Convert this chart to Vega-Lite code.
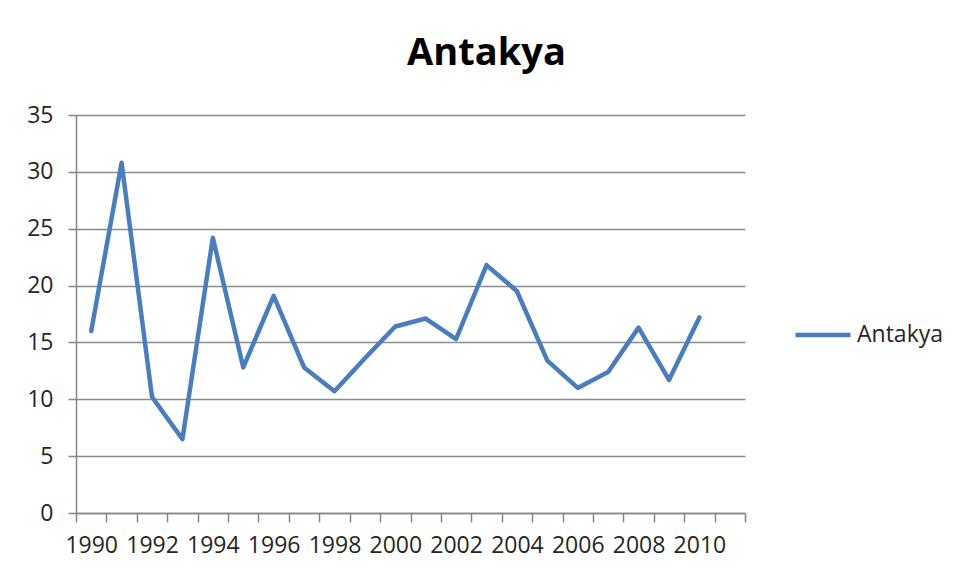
{
  "$schema": "https://vega.github.io/schema/vega-lite/v6.json",
  "autosize": {"type": "none"},
  "padding": {"left": 76, "top": 115, "right": 212, "bottom": 65},
  "width": 669,
  "height": 398,
  "background": "white",
  "title": {
    "text": "Antakya",
    "font": "Open Sans",
    "fontSize": 38,
    "fontWeight": "bold",
    "color": "#000000",
    "anchor": "middle",
    "frame": "group",
    "dx": 76,
    "baseline": "alphabetic",
    "offset": 1
  },
  "data": {
    "values": [
      {"year": "1990", "value": 16.0, "series": "Antakya"},
      {"year": "1991", "value": 30.8, "series": "Antakya"},
      {"year": "1992", "value": 10.2, "series": "Antakya"},
      {"year": "1993", "value": 6.5, "series": "Antakya"},
      {"year": "1994", "value": 24.2, "series": "Antakya"},
      {"year": "1995", "value": 12.8, "series": "Antakya"},
      {"year": "1996", "value": 19.1, "series": "Antakya"},
      {"year": "1997", "value": 12.8, "series": "Antakya"},
      {"year": "1998", "value": 10.7, "series": "Antakya"},
      {"year": "1999", "value": 13.6, "series": "Antakya"},
      {"year": "2000", "value": 16.4, "series": "Antakya"},
      {"year": "2001", "value": 17.1, "series": "Antakya"},
      {"year": "2002", "value": 15.3, "series": "Antakya"},
      {"year": "2003", "value": 21.8, "series": "Antakya"},
      {"year": "2004", "value": 19.5, "series": "Antakya"},
      {"year": "2005", "value": 13.4, "series": "Antakya"},
      {"year": "2006", "value": 11.0, "series": "Antakya"},
      {"year": "2007", "value": 12.4, "series": "Antakya"},
      {"year": "2008", "value": 16.3, "series": "Antakya"},
      {"year": "2009", "value": 11.7, "series": "Antakya"},
      {"year": "2010", "value": 17.2, "series": "Antakya"}
    ]
  },
  "mark": {"type": "line", "strokeWidth": 4.5, "strokeJoin": "round", "strokeCap": "round"},
  "encoding": {
    "x": {
      "field": "year",
      "type": "ordinal",
      "sort": null,
      "scale": {
        "type": "band",
        "domain": ["1990","1991","1992","1993","1994","1995","1996","1997","1998","1999","2000","2001","2002","2003","2004","2005","2006","2007","2008","2009","2010","2011"],
        "paddingInner": 0,
        "paddingOuter": 0
      },
      "axis": {
        "title": null,
        "labelAngle": 0,
        "labelOverlap": false,
        "labelExpr": "toNumber(datum.value) % 2 == 0 ? datum.label : ''",
        "tickBand": "extent",
        "tickSize": 9,
        "tickColor": "#868686",
        "tickWidth": 1.5,
        "domainColor": "#868686",
        "domainWidth": 1.5,
        "grid": false,
        "labelFont": "Open Sans",
        "labelFontSize": 23,
        "labelColor": "#262626",
        "labelPadding": 12
      }
    },
    "y": {
      "field": "value",
      "type": "quantitative",
      "scale": {"domain": [0, 35], "nice": false, "zero": true},
      "axis": {
        "title": null,
        "values": [0, 5, 10, 15, 20, 25, 30, 35],
        "tickSize": 8,
        "tickColor": "#868686",
        "tickWidth": 1.5,
        "domainColor": "#868686",
        "domainWidth": 1.5,
        "gridColor": "#8c8c8c",
        "gridWidth": 1.5,
        "labelFont": "Open Sans",
        "labelFontSize": 23,
        "labelColor": "#262626",
        "labelPadding": 15
      }
    },
    "color": {
      "field": "series",
      "type": "nominal",
      "scale": {"range": ["#4a7ebb"]},
      "legend": {
        "title": null,
        "orient": "none",
        "legendX": 717,
        "legendY": 190,
        "symbolType": "stroke",
        "symbolSize": 3025,
        "symbolStrokeWidth": 4.5,
        "labelFont": "Open Sans",
        "labelFontSize": 23,
        "labelColor": "#262626",
        "labelOffset": 4
      }
    }
  },
  "config": {
    "view": {"stroke": null},
    "axis": {"gridOpacity": 1}
  }
}
